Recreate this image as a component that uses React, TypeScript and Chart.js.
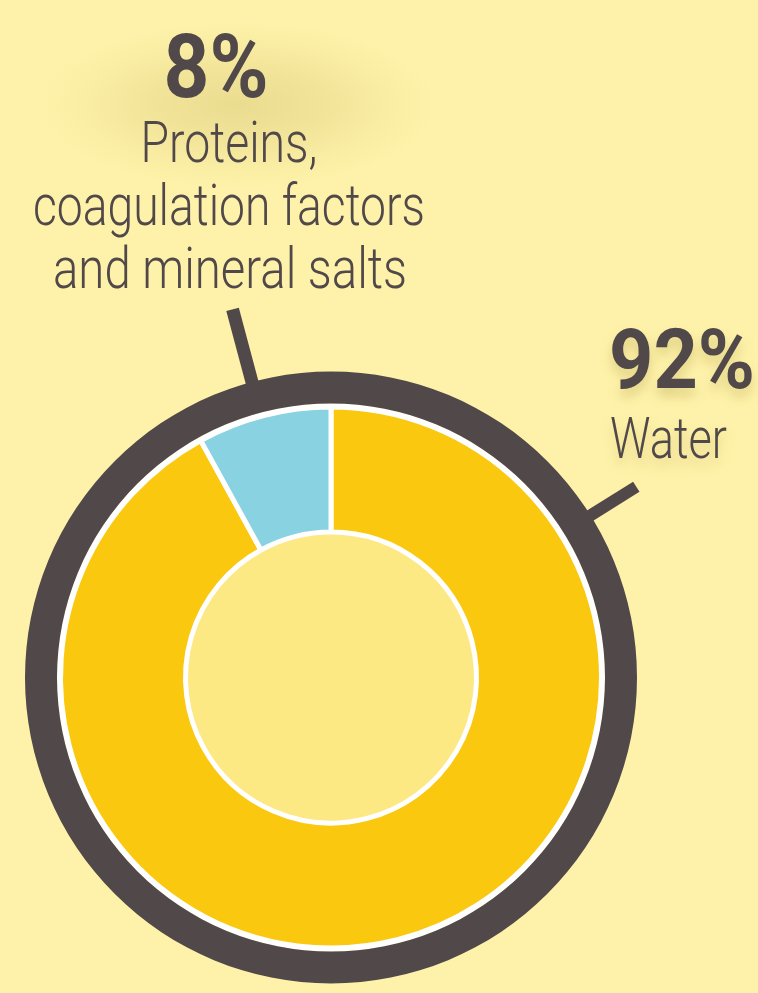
import React, { useEffect, useRef } from 'react';
import { Chart, registerables } from 'chart.js';
Chart.register(...registerables);

// ---- data ----
const categories = ['Water', 'Proteins, coagulation factors and mineral salts'];
const values = [92, 8];
const percentLabels = ['92%', '8%'];
const sliceColors = ['#FAC80E', '#88D2E2'];
const labelLines8 = ['Proteins,', 'coagulation factors', 'and mineral salts'];
const labelLines92 = ['Water'];
const outerRing = [100];
const whiteGap = [100];
const holeFill = [100];

const BG = '#FEF2AA';
const DARK = '#514849';
const HOLE = '#FDE983';
const FONT = 'Roboto, "Liberation Sans", sans-serif';

function fitText(ctx: CanvasRenderingContext2D, text: string, x: number, y: number, align: 'left' | 'center', width: number) {
  const m = ctx.measureText(text).width;
  const s = width / m;
  ctx.save();
  ctx.translate(x, y);
  ctx.scale(s, 1);
  ctx.textAlign = align;
  ctx.textBaseline = 'alphabetic';
  ctx.fillText(text, 0, 0);
  ctx.restore();
}

const bgPlugin = {
  id: 'bgPlugin',
  beforeDraw(chart: any) {
    const { ctx, width, height } = chart;
    ctx.save();
    ctx.fillStyle = BG;
    ctx.fillRect(0, 0, width, height);
    ctx.restore();
  },
};

const decoPlugin = {
  id: 'decoPlugin',
  afterDraw(chart: any) {
    const { ctx } = chart;
    const ringMeta = chart.getDatasetMeta(0);
    const arc = ringMeta.data[0];
    const cx = arc.x, cy = arc.y, R = arc.outerRadius;
    // ticks
    const blueMid = -(values[1] / (values[0] + values[1])) * 180; // degrees from top
    const ticks = [
      { a: blueMid * Math.PI / 180 - 0.01, r1: R - 8, r2: R + 75, w: 13 },
      { a: 58 * Math.PI / 180, r1: R - 8, r2: R + 54, w: 12 },
    ];
    ctx.save();
    ctx.strokeStyle = DARK;
    ctx.lineCap = 'butt';
    for (const t of ticks) {
      ctx.lineWidth = t.w;
      ctx.beginPath();
      ctx.moveTo(cx + t.r1 * Math.sin(t.a), cy - t.r1 * Math.cos(t.a));
      ctx.lineTo(cx + t.r2 * Math.sin(t.a), cy - t.r2 * Math.cos(t.a));
      ctx.stroke();
    }
    ctx.restore();

    // soft glow behind 8% label
    ctx.save();
    ctx.translate(238, 105);
    ctx.scale(1, 0.42);
    const g = ctx.createRadialGradient(0, 0, 0, 0, 0, 200);
    g.addColorStop(0, 'rgba(200,185,100,0.38)');
    g.addColorStop(0.45, 'rgba(205,190,105,0.25)');
    g.addColorStop(1, 'rgba(220,205,120,0)');
    ctx.fillStyle = g;
    ctx.beginPath();
    ctx.arc(0, 0, 200, 0, Math.PI * 2);
    ctx.fill();
    ctx.restore();

    ctx.save();
    ctx.fillStyle = DARK;
    ctx.font = `bold 89px ${FONT}`;
    fitText(ctx, percentLabels[1], 216, 97, 'center', 105);
    ctx.font = `300 57px ${FONT}`;
    fitText(ctx, labelLines8[0], 229, 162, 'center', 177);
    fitText(ctx, labelLines8[1], 229, 225, 'center', 392);
    fitText(ctx, labelLines8[2], 230, 288, 'center', 354);

    ctx.shadowColor = 'rgba(170,150,60,0.35)';
    ctx.shadowBlur = 12;
    ctx.shadowOffsetY = 8;
    ctx.font = `bold 84px ${FONT}`;
    fitText(ctx, percentLabels[0], 609, 388, 'left', 146);
    ctx.font = `300 57px ${FONT}`;
    fitText(ctx, labelLines92[0], 610, 458, 'left', 117);
    ctx.restore();
  },
};

export default function App() {
  const ref = useRef<HTMLCanvasElement>(null);
  useEffect(() => {
    document.body.style.margin = '0';
    document.body.style.background = BG;
    const chart = new Chart(ref.current!, {
      type: 'doughnut',
      data: {
        labels: categories,
        datasets: [
          { data: outerRing, backgroundColor: [DARK], borderWidth: 0, weight: 32 } as any,
          { data: whiteGap, backgroundColor: ['#FFFFFF'], borderWidth: 0, weight: 3.5 } as any,
          { data: values, backgroundColor: sliceColors, borderColor: '#FFFFFF', borderWidth: 5, weight: 125 } as any,
          { data: holeFill, backgroundColor: [HOLE], borderWidth: 0, weight: 145.5 } as any,
        ],
      },
      options: {
        responsive: false,
        animation: false,
        cutout: 0,
        rotation: 0,
        layout: { padding: { left: 25, right: 121, top: 371.5, bottom: 9.5 } },
        plugins: { legend: { display: false }, tooltip: { enabled: false } },
        events: [],
      },
      plugins: [bgPlugin, decoPlugin],
    });
    return () => chart.destroy();
  }, []);
  return (
    <div style={{ width: 758, height: 993, background: BG }}>
      <canvas ref={ref} width={758} height={993} style={{ display: 'block' }} />
    </div>
  );
}
